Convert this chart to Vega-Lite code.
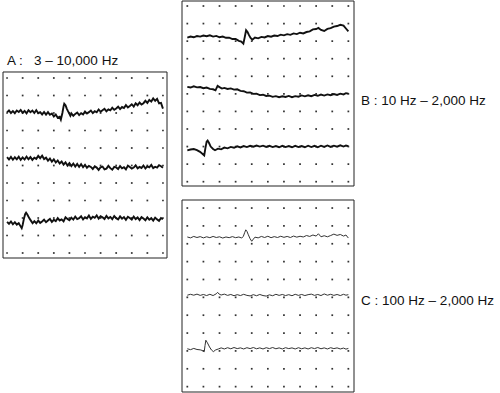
{
"$schema":"https://vega.github.io/schema/vega-lite/v6.json",
"background":"white",
"padding":{"left":2,"top":0,"right":0,"bottom":0},
"config":{"view":{"stroke":null},"font":"Liberation Sans"},
"datasets":{
"grid":[{"x":0,"y":[0,1,2,3,4,5,6,7,8,9,10]},{"x":1,"y":[0,1,2,3,4,5,6,7,8,9,10]},{"x":2,"y":[0,1,2,3,4,5,6,7,8,9,10]},{"x":3,"y":[0,1,2,3,4,5,6,7,8,9,10]},{"x":4,"y":[0,1,2,3,4,5,6,7,8,9,10]},{"x":5,"y":[0,1,2,3,4,5,6,7,8,9,10]},{"x":6,"y":[0,1,2,3,4,5,6,7,8,9,10]},{"x":7,"y":[0,1,2,3,4,5,6,7,8,9,10]},{"x":8,"y":[0,1,2,3,4,5,6,7,8,9,10]},{"x":9,"y":[0,1,2,3,4,5,6,7,8,9,10]},{"x":10,"y":[0,1,2,3,4,5,6,7,8,9,10]}],
"A":[
{"s":1,"x":0,"y":1.97},{"s":1,"x":0.125,"y":1.85},{"s":1,"x":0.25,"y":2.0},{"s":1,"x":0.375,"y":1.89},{"s":1,"x":0.5,"y":2.01},{"s":1,"x":0.625,"y":1.86},{"s":1,"x":0.75,"y":1.94},{"s":1,"x":0.875,"y":1.83},{"s":1,"x":1.0,"y":1.99},{"s":1,"x":1.125,"y":1.88},{"s":1,"x":1.25,"y":2.02},{"s":1,"x":1.375,"y":1.84},{"s":1,"x":1.5,"y":1.95},{"s":1,"x":1.625,"y":1.86},{"s":1,"x":1.75,"y":2.0},{"s":1,"x":1.875,"y":1.84},{"s":1,"x":2.0,"y":2.01},{"s":1,"x":2.125,"y":1.95},{"s":1,"x":2.25,"y":2.08},{"s":1,"x":2.375,"y":1.94},{"s":1,"x":2.5,"y":2.09},{"s":1,"x":2.625,"y":1.95},{"s":1,"x":2.75,"y":2.1},{"s":1,"x":2.875,"y":2.03},{"s":1,"x":3.0,"y":2.2},{"s":1,"x":3.125,"y":2.09},{"s":1,"x":3.25,"y":2.27},{"s":1,"x":3.375,"y":2.22},{"s":1,"x":3.45,"y":2.38},{"s":1,"x":3.55,"y":2.0},{"s":1,"x":3.625,"y":1.62},{"s":1,"x":3.67,"y":1.47},{"s":1,"x":3.75,"y":1.55},{"s":1,"x":3.83,"y":1.75},{"s":1,"x":3.9,"y":1.88},{"s":1,"x":4.0,"y":2.05},{"s":1,"x":4.06,"y":2.16},{"s":1,"x":4.125,"y":2.02},{"s":1,"x":4.25,"y":2.16},{"s":1,"x":4.375,"y":2.05},{"s":1,"x":4.5,"y":1.97},{"s":1,"x":4.625,"y":2.12},{"s":1,"x":4.75,"y":2.01},{"s":1,"x":4.875,"y":2.08},{"s":1,"x":5.0,"y":1.91},{"s":1,"x":5.125,"y":2.03},{"s":1,"x":5.25,"y":1.95},{"s":1,"x":5.375,"y":1.86},{"s":1,"x":5.5,"y":2.01},{"s":1,"x":5.625,"y":1.9},{"s":1,"x":5.75,"y":1.96},{"s":1,"x":5.875,"y":1.8},{"s":1,"x":6.0,"y":1.93},{"s":1,"x":6.125,"y":1.84},{"s":1,"x":6.25,"y":1.76},{"s":1,"x":6.375,"y":1.9},{"s":1,"x":6.5,"y":1.79},{"s":1,"x":6.625,"y":1.85},{"s":1,"x":6.75,"y":1.7},{"s":1,"x":6.875,"y":1.82},{"s":1,"x":7.0,"y":1.74},{"s":1,"x":7.125,"y":1.64},{"s":1,"x":7.25,"y":1.78},{"s":1,"x":7.375,"y":1.66},{"s":1,"x":7.5,"y":1.72},{"s":1,"x":7.625,"y":1.55},{"s":1,"x":7.75,"y":1.68},{"s":1,"x":7.875,"y":1.6},{"s":1,"x":8.0,"y":1.5},{"s":1,"x":8.125,"y":1.63},{"s":1,"x":8.25,"y":1.45},{"s":1,"x":8.375,"y":1.56},{"s":1,"x":8.5,"y":1.4},{"s":1,"x":8.625,"y":1.52},{"s":1,"x":8.75,"y":1.44},{"s":1,"x":8.875,"y":1.3},{"s":1,"x":9.0,"y":1.42},{"s":1,"x":9.125,"y":1.25},{"s":1,"x":9.25,"y":1.35},{"s":1,"x":9.375,"y":1.17},{"s":1,"x":9.5,"y":1.3},{"s":1,"x":9.625,"y":1.19},{"s":1,"x":9.75,"y":1.45},{"s":1,"x":9.875,"y":1.42},{"s":1,"x":10.0,"y":1.75},
{"s":2,"x":0,"y":4.52},{"s":2,"x":0.125,"y":4.66},{"s":2,"x":0.25,"y":4.51},{"s":2,"x":0.375,"y":4.67},{"s":2,"x":0.5,"y":4.53},{"s":2,"x":0.625,"y":4.65},{"s":2,"x":0.75,"y":4.5},{"s":2,"x":0.875,"y":4.68},{"s":2,"x":1.0,"y":4.54},{"s":2,"x":1.125,"y":4.66},{"s":2,"x":1.25,"y":4.49},{"s":2,"x":1.375,"y":4.64},{"s":2,"x":1.5,"y":4.52},{"s":2,"x":1.625,"y":4.68},{"s":2,"x":1.75,"y":4.55},{"s":2,"x":1.875,"y":4.62},{"s":2,"x":2.0,"y":4.45},{"s":2,"x":2.125,"y":4.58},{"s":2,"x":2.25,"y":4.44},{"s":2,"x":2.375,"y":4.63},{"s":2,"x":2.5,"y":4.55},{"s":2,"x":2.625,"y":4.72},{"s":2,"x":2.75,"y":4.6},{"s":2,"x":2.875,"y":4.78},{"s":2,"x":3.0,"y":4.65},{"s":2,"x":3.125,"y":4.83},{"s":2,"x":3.25,"y":4.71},{"s":2,"x":3.375,"y":4.88},{"s":2,"x":3.5,"y":4.77},{"s":2,"x":3.625,"y":4.95},{"s":2,"x":3.75,"y":4.82},{"s":2,"x":3.875,"y":5.0},{"s":2,"x":4.0,"y":4.86},{"s":2,"x":4.125,"y":5.03},{"s":2,"x":4.25,"y":4.89},{"s":2,"x":4.375,"y":5.06},{"s":2,"x":4.5,"y":4.91},{"s":2,"x":4.625,"y":5.08},{"s":2,"x":4.75,"y":4.93},{"s":2,"x":4.875,"y":5.1},{"s":2,"x":5.0,"y":4.96},{"s":2,"x":5.125,"y":5.13},{"s":2,"x":5.25,"y":5.02},{"s":2,"x":5.375,"y":5.08},{"s":2,"x":5.5,"y":5.2},{"s":2,"x":5.625,"y":5.05},{"s":2,"x":5.75,"y":5.12},{"s":2,"x":5.875,"y":5.25},{"s":2,"x":6.0,"y":5.1},{"s":2,"x":6.125,"y":5.06},{"s":2,"x":6.25,"y":5.22},{"s":2,"x":6.375,"y":5.18},{"s":2,"x":6.5,"y":5.02},{"s":2,"x":6.625,"y":5.15},{"s":2,"x":6.75,"y":5.24},{"s":2,"x":6.875,"y":5.08},{"s":2,"x":7.0,"y":5.11},{"s":2,"x":7.125,"y":5.2},{"s":2,"x":7.25,"y":5.03},{"s":2,"x":7.375,"y":5.16},{"s":2,"x":7.5,"y":5.1},{"s":2,"x":7.625,"y":5.22},{"s":2,"x":7.75,"y":5.01},{"s":2,"x":7.875,"y":5.09},{"s":2,"x":8.0,"y":5.18},{"s":2,"x":8.125,"y":5.12},{"s":2,"x":8.25,"y":4.99},{"s":2,"x":8.375,"y":5.16},{"s":2,"x":8.5,"y":5.08},{"s":2,"x":8.625,"y":5.14},{"s":2,"x":8.75,"y":5.0},{"s":2,"x":8.875,"y":5.17},{"s":2,"x":9.0,"y":5.05},{"s":2,"x":9.125,"y":5.1},{"s":2,"x":9.25,"y":4.97},{"s":2,"x":9.375,"y":5.15},{"s":2,"x":9.5,"y":5.07},{"s":2,"x":9.625,"y":5.12},{"s":2,"x":9.75,"y":4.98},{"s":2,"x":9.875,"y":5.04},{"s":2,"x":10.0,"y":5.13},
{"s":3,"x":0,"y":8.22},{"s":3,"x":0.125,"y":8.33},{"s":3,"x":0.25,"y":8.2},{"s":3,"x":0.375,"y":8.36},{"s":3,"x":0.5,"y":8.24},{"s":3,"x":0.625,"y":8.38},{"s":3,"x":0.75,"y":8.3},{"s":3,"x":0.85,"y":8.45},{"s":3,"x":0.94,"y":8.58},{"s":3,"x":1.0,"y":8.4},{"s":3,"x":1.08,"y":8.05},{"s":3,"x":1.16,"y":7.78},{"s":3,"x":1.22,"y":7.7},{"s":3,"x":1.3,"y":7.8},{"s":3,"x":1.43,"y":8.02},{"s":3,"x":1.55,"y":8.18},{"s":3,"x":1.64,"y":8.3},{"s":3,"x":1.75,"y":8.18},{"s":3,"x":1.875,"y":8.3},{"s":3,"x":2.0,"y":8.15},{"s":3,"x":2.125,"y":8.28},{"s":3,"x":2.25,"y":8.2},{"s":3,"x":2.375,"y":8.09},{"s":3,"x":2.5,"y":8.24},{"s":3,"x":2.625,"y":8.14},{"s":3,"x":2.75,"y":8.05},{"s":3,"x":2.875,"y":8.22},{"s":3,"x":3.0,"y":8.1},{"s":3,"x":3.125,"y":8.18},{"s":3,"x":3.25,"y":8.01},{"s":3,"x":3.375,"y":8.14},{"s":3,"x":3.5,"y":8.08},{"s":3,"x":3.625,"y":8.19},{"s":3,"x":3.75,"y":7.96},{"s":3,"x":3.875,"y":8.05},{"s":3,"x":4.0,"y":8.13},{"s":3,"x":4.125,"y":7.98},{"s":3,"x":4.25,"y":8.09},{"s":3,"x":4.375,"y":7.92},{"s":3,"x":4.5,"y":8.06},{"s":3,"x":4.625,"y":8.01},{"s":3,"x":4.75,"y":7.9},{"s":3,"x":4.875,"y":8.08},{"s":3,"x":5.0,"y":7.95},{"s":3,"x":5.125,"y":8.02},{"s":3,"x":5.25,"y":7.86},{"s":3,"x":5.375,"y":8.05},{"s":3,"x":5.5,"y":7.93},{"s":3,"x":5.625,"y":7.99},{"s":3,"x":5.75,"y":7.85},{"s":3,"x":5.875,"y":8.04},{"s":3,"x":6.0,"y":7.9},{"s":3,"x":6.125,"y":7.96},{"s":3,"x":6.25,"y":8.06},{"s":3,"x":6.375,"y":7.88},{"s":3,"x":6.5,"y":8.02},{"s":3,"x":6.625,"y":7.94},{"s":3,"x":6.75,"y":8.07},{"s":3,"x":6.875,"y":7.89},{"s":3,"x":7.0,"y":8.01},{"s":3,"x":7.125,"y":8.08},{"s":3,"x":7.25,"y":7.91},{"s":3,"x":7.375,"y":8.04},{"s":3,"x":7.5,"y":7.95},{"s":3,"x":7.625,"y":8.1},{"s":3,"x":7.75,"y":7.93},{"s":3,"x":7.875,"y":8.0},{"s":3,"x":8.0,"y":8.09},{"s":3,"x":8.125,"y":7.92},{"s":3,"x":8.25,"y":8.06},{"s":3,"x":8.375,"y":7.97},{"s":3,"x":8.5,"y":8.12},{"s":3,"x":8.625,"y":7.95},{"s":3,"x":8.75,"y":8.03},{"s":3,"x":8.875,"y":8.13},{"s":3,"x":9.0,"y":7.96},{"s":3,"x":9.125,"y":8.1},{"s":3,"x":9.25,"y":8.01},{"s":3,"x":9.375,"y":8.15},{"s":3,"x":9.5,"y":7.98},{"s":3,"x":9.625,"y":8.08},{"s":3,"x":9.75,"y":8.16},{"s":3,"x":9.875,"y":8.0},{"s":3,"x":10.0,"y":8.07}
],
"B":[
{"s":1,"x":0,"y":1.8},{"s":1,"x":0.2,"y":1.74},{"s":1,"x":0.4,"y":1.78},{"s":1,"x":0.6,"y":1.71},{"s":1,"x":0.8,"y":1.74},{"s":1,"x":1.0,"y":1.68},{"s":1,"x":1.2,"y":1.72},{"s":1,"x":1.4,"y":1.67},{"s":1,"x":1.6,"y":1.74},{"s":1,"x":1.8,"y":1.7},{"s":1,"x":2.0,"y":1.78},{"s":1,"x":2.2,"y":1.74},{"s":1,"x":2.4,"y":1.81},{"s":1,"x":2.6,"y":1.8},{"s":1,"x":2.8,"y":1.88},{"s":1,"x":3.0,"y":1.87},{"s":1,"x":3.2,"y":1.98},{"s":1,"x":3.35,"y":2.02},{"s":1,"x":3.48,"y":2.14},{"s":1,"x":3.56,"y":1.8},{"s":1,"x":3.65,"y":1.38},{"s":1,"x":3.74,"y":1.48},{"s":1,"x":3.83,"y":1.66},{"s":1,"x":3.93,"y":1.82},{"s":1,"x":4.04,"y":1.92},{"s":1,"x":4.2,"y":1.8},{"s":1,"x":4.4,"y":1.84},{"s":1,"x":4.6,"y":1.76},{"s":1,"x":4.8,"y":1.79},{"s":1,"x":5.0,"y":1.71},{"s":1,"x":5.2,"y":1.75},{"s":1,"x":5.4,"y":1.68},{"s":1,"x":5.6,"y":1.71},{"s":1,"x":5.8,"y":1.63},{"s":1,"x":6.0,"y":1.67},{"s":1,"x":6.2,"y":1.6},{"s":1,"x":6.4,"y":1.64},{"s":1,"x":6.6,"y":1.56},{"s":1,"x":6.8,"y":1.6},{"s":1,"x":7.0,"y":1.52},{"s":1,"x":7.2,"y":1.56},{"s":1,"x":7.4,"y":1.48},{"s":1,"x":7.6,"y":1.44},{"s":1,"x":7.8,"y":1.33},{"s":1,"x":8.0,"y":1.31},{"s":1,"x":8.14,"y":1.25},{"s":1,"x":8.3,"y":1.36},{"s":1,"x":8.5,"y":1.42},{"s":1,"x":8.7,"y":1.3},{"s":1,"x":8.9,"y":1.26},{"s":1,"x":9.1,"y":1.17},{"s":1,"x":9.3,"y":1.14},{"s":1,"x":9.5,"y":1.07},{"s":1,"x":9.7,"y":1.12},{"s":1,"x":9.85,"y":1.28},{"s":1,"x":10.0,"y":1.44},
{"s":2,"x":0,"y":4.6},{"s":2,"x":0.2,"y":4.64},{"s":2,"x":0.4,"y":4.57},{"s":2,"x":0.6,"y":4.63},{"s":2,"x":0.8,"y":4.61},{"s":2,"x":1.0,"y":4.68},{"s":2,"x":1.2,"y":4.64},{"s":2,"x":1.4,"y":4.72},{"s":2,"x":1.6,"y":4.74},{"s":2,"x":1.75,"y":4.8},{"s":2,"x":1.88,"y":4.55},{"s":2,"x":2.0,"y":4.62},{"s":2,"x":2.15,"y":4.7},{"s":2,"x":2.3,"y":4.66},{"s":2,"x":2.5,"y":4.72},{"s":2,"x":2.7,"y":4.69},{"s":2,"x":2.9,"y":4.76},{"s":2,"x":3.1,"y":4.74},{"s":2,"x":3.3,"y":4.83},{"s":2,"x":3.5,"y":4.85},{"s":2,"x":3.7,"y":4.93},{"s":2,"x":3.9,"y":4.92},{"s":2,"x":4.1,"y":5.0},{"s":2,"x":4.3,"y":4.99},{"s":2,"x":4.5,"y":5.07},{"s":2,"x":4.7,"y":5.05},{"s":2,"x":4.9,"y":5.12},{"s":2,"x":5.1,"y":5.1},{"s":2,"x":5.3,"y":5.17},{"s":2,"x":5.5,"y":5.13},{"s":2,"x":5.7,"y":5.19},{"s":2,"x":5.9,"y":5.14},{"s":2,"x":6.1,"y":5.18},{"s":2,"x":6.3,"y":5.12},{"s":2,"x":6.5,"y":5.19},{"s":2,"x":6.7,"y":5.13},{"s":2,"x":6.9,"y":5.16},{"s":2,"x":7.1,"y":5.09},{"s":2,"x":7.3,"y":5.14},{"s":2,"x":7.5,"y":5.08},{"s":2,"x":7.7,"y":5.13},{"s":2,"x":7.9,"y":5.06},{"s":2,"x":8.1,"y":5.11},{"s":2,"x":8.3,"y":5.04},{"s":2,"x":8.5,"y":5.1},{"s":2,"x":8.7,"y":5.03},{"s":2,"x":8.9,"y":5.08},{"s":2,"x":9.1,"y":5.01},{"s":2,"x":9.3,"y":5.06},{"s":2,"x":9.5,"y":4.99},{"s":2,"x":9.7,"y":5.03},{"s":2,"x":9.85,"y":4.96},{"s":2,"x":10.0,"y":4.99},
{"s":3,"x":0,"y":8.22},{"s":3,"x":0.2,"y":8.17},{"s":3,"x":0.4,"y":8.14},{"s":3,"x":0.6,"y":8.2},{"s":3,"x":0.79,"y":8.3},{"s":3,"x":0.95,"y":8.42},{"s":3,"x":1.05,"y":8.5},{"s":3,"x":1.12,"y":8.1},{"s":3,"x":1.2,"y":7.72},{"s":3,"x":1.26,"y":7.66},{"s":3,"x":1.35,"y":7.8},{"s":3,"x":1.45,"y":8.0},{"s":3,"x":1.6,"y":8.14},{"s":3,"x":1.72,"y":8.21},{"s":3,"x":1.9,"y":8.12},{"s":3,"x":2.1,"y":8.16},{"s":3,"x":2.3,"y":8.06},{"s":3,"x":2.5,"y":8.1},{"s":3,"x":2.7,"y":8.02},{"s":3,"x":2.9,"y":8.07},{"s":3,"x":3.1,"y":7.99},{"s":3,"x":3.3,"y":8.05},{"s":3,"x":3.5,"y":7.97},{"s":3,"x":3.7,"y":8.03},{"s":3,"x":3.9,"y":7.96},{"s":3,"x":4.1,"y":8.01},{"s":3,"x":4.3,"y":7.94},{"s":3,"x":4.5,"y":8.0},{"s":3,"x":4.7,"y":7.95},{"s":3,"x":4.9,"y":8.02},{"s":3,"x":5.1,"y":7.96},{"s":3,"x":5.3,"y":8.03},{"s":3,"x":5.5,"y":7.97},{"s":3,"x":5.7,"y":8.04},{"s":3,"x":5.9,"y":7.96},{"s":3,"x":6.1,"y":8.03},{"s":3,"x":6.3,"y":7.97},{"s":3,"x":6.5,"y":8.04},{"s":3,"x":6.7,"y":7.96},{"s":3,"x":6.9,"y":8.03},{"s":3,"x":7.1,"y":7.97},{"s":3,"x":7.3,"y":8.04},{"s":3,"x":7.5,"y":7.95},{"s":3,"x":7.7,"y":8.03},{"s":3,"x":7.9,"y":7.96},{"s":3,"x":8.1,"y":8.04},{"s":3,"x":8.3,"y":7.95},{"s":3,"x":8.5,"y":8.02},{"s":3,"x":8.7,"y":7.94},{"s":3,"x":8.9,"y":8.02},{"s":3,"x":9.1,"y":7.95},{"s":3,"x":9.3,"y":8.01},{"s":3,"x":9.5,"y":7.93},{"s":3,"x":9.7,"y":8.0},{"s":3,"x":9.85,"y":7.94},{"s":3,"x":10.0,"y":7.98}
],
"C":[
{"s":1,"x":0,"y":1.62},{"s":1,"x":0.2,"y":1.67},{"s":1,"x":0.4,"y":1.59},{"s":1,"x":0.6,"y":1.65},{"s":1,"x":0.8,"y":1.6},{"s":1,"x":1.0,"y":1.67},{"s":1,"x":1.2,"y":1.61},{"s":1,"x":1.4,"y":1.66},{"s":1,"x":1.6,"y":1.59},{"s":1,"x":1.8,"y":1.65},{"s":1,"x":2.0,"y":1.61},{"s":1,"x":2.2,"y":1.68},{"s":1,"x":2.4,"y":1.62},{"s":1,"x":2.6,"y":1.66},{"s":1,"x":2.8,"y":1.6},{"s":1,"x":3.0,"y":1.66},{"s":1,"x":3.2,"y":1.62},{"s":1,"x":3.38,"y":1.68},{"s":1,"x":3.48,"y":1.58},{"s":1,"x":3.56,"y":1.38},{"s":1,"x":3.63,"y":1.22},{"s":1,"x":3.7,"y":1.3},{"s":1,"x":3.79,"y":1.5},{"s":1,"x":3.9,"y":1.72},{"s":1,"x":4.0,"y":1.86},{"s":1,"x":4.1,"y":1.74},{"s":1,"x":4.2,"y":1.63},{"s":1,"x":4.4,"y":1.67},{"s":1,"x":4.6,"y":1.59},{"s":1,"x":4.8,"y":1.65},{"s":1,"x":5.0,"y":1.58},{"s":1,"x":5.2,"y":1.66},{"s":1,"x":5.4,"y":1.6},{"s":1,"x":5.6,"y":1.65},{"s":1,"x":5.8,"y":1.58},{"s":1,"x":6.0,"y":1.64},{"s":1,"x":6.2,"y":1.59},{"s":1,"x":6.4,"y":1.65},{"s":1,"x":6.6,"y":1.57},{"s":1,"x":6.8,"y":1.63},{"s":1,"x":7.0,"y":1.58},{"s":1,"x":7.2,"y":1.62},{"s":1,"x":7.4,"y":1.54},{"s":1,"x":7.6,"y":1.59},{"s":1,"x":7.8,"y":1.51},{"s":1,"x":8.0,"y":1.57},{"s":1,"x":8.14,"y":1.44},{"s":1,"x":8.3,"y":1.61},{"s":1,"x":8.5,"y":1.55},{"s":1,"x":8.7,"y":1.61},{"s":1,"x":8.9,"y":1.54},{"s":1,"x":9.1,"y":1.46},{"s":1,"x":9.3,"y":1.53},{"s":1,"x":9.5,"y":1.48},{"s":1,"x":9.7,"y":1.57},{"s":1,"x":9.85,"y":1.51},{"s":1,"x":10.0,"y":1.68},
{"s":2,"x":0,"y":4.88},{"s":2,"x":0.2,"y":4.83},{"s":2,"x":0.4,"y":4.88},{"s":2,"x":0.6,"y":4.82},{"s":2,"x":0.8,"y":4.89},{"s":2,"x":1.0,"y":4.84},{"s":2,"x":1.2,"y":4.9},{"s":2,"x":1.4,"y":4.83},{"s":2,"x":1.6,"y":4.9},{"s":2,"x":1.8,"y":4.8},{"s":2,"x":1.88,"y":4.72},{"s":2,"x":1.98,"y":4.82},{"s":2,"x":2.1,"y":4.87},{"s":2,"x":2.3,"y":4.82},{"s":2,"x":2.5,"y":4.89},{"s":2,"x":2.7,"y":4.84},{"s":2,"x":2.9,"y":4.91},{"s":2,"x":3.1,"y":4.85},{"s":2,"x":3.3,"y":4.9},{"s":2,"x":3.5,"y":4.83},{"s":2,"x":3.7,"y":4.89},{"s":2,"x":3.9,"y":4.92},{"s":2,"x":4.1,"y":4.85},{"s":2,"x":4.3,"y":4.91},{"s":2,"x":4.5,"y":4.84},{"s":2,"x":4.7,"y":4.9},{"s":2,"x":4.9,"y":4.93},{"s":2,"x":5.1,"y":4.86},{"s":2,"x":5.3,"y":4.91},{"s":2,"x":5.5,"y":4.83},{"s":2,"x":5.7,"y":4.89},{"s":2,"x":5.9,"y":4.84},{"s":2,"x":6.1,"y":4.9},{"s":2,"x":6.3,"y":4.85},{"s":2,"x":6.5,"y":4.91},{"s":2,"x":6.7,"y":4.83},{"s":2,"x":6.9,"y":4.89},{"s":2,"x":7.1,"y":4.84},{"s":2,"x":7.3,"y":4.9},{"s":2,"x":7.5,"y":4.85},{"s":2,"x":7.7,"y":4.82},{"s":2,"x":7.9,"y":4.89},{"s":2,"x":8.1,"y":4.84},{"s":2,"x":8.3,"y":4.9},{"s":2,"x":8.5,"y":4.81},{"s":2,"x":8.7,"y":4.88},{"s":2,"x":8.9,"y":4.83},{"s":2,"x":9.1,"y":4.89},{"s":2,"x":9.3,"y":4.84},{"s":2,"x":9.5,"y":4.9},{"s":2,"x":9.7,"y":4.83},{"s":2,"x":9.85,"y":4.88},{"s":2,"x":10.0,"y":4.85},
{"s":3,"x":0,"y":7.88},{"s":3,"x":0.2,"y":7.93},{"s":3,"x":0.4,"y":7.86},{"s":3,"x":0.6,"y":7.92},{"s":3,"x":0.8,"y":7.94},{"s":3,"x":0.95,"y":7.98},{"s":3,"x":1.05,"y":8.04},{"s":3,"x":1.1,"y":7.7},{"s":3,"x":1.15,"y":7.4},{"s":3,"x":1.25,"y":7.55},{"s":3,"x":1.38,"y":7.78},{"s":3,"x":1.5,"y":7.95},{"s":3,"x":1.62,"y":8.04},{"s":3,"x":1.75,"y":7.95},{"s":3,"x":1.93,"y":7.89},{"s":3,"x":2.1,"y":7.83},{"s":3,"x":2.3,"y":7.89},{"s":3,"x":2.5,"y":7.82},{"s":3,"x":2.7,"y":7.88},{"s":3,"x":2.9,"y":7.81},{"s":3,"x":3.1,"y":7.87},{"s":3,"x":3.3,"y":7.83},{"s":3,"x":3.5,"y":7.89},{"s":3,"x":3.7,"y":7.82},{"s":3,"x":3.9,"y":7.87},{"s":3,"x":4.1,"y":7.81},{"s":3,"x":4.3,"y":7.88},{"s":3,"x":4.5,"y":7.83},{"s":3,"x":4.7,"y":7.89},{"s":3,"x":4.9,"y":7.82},{"s":3,"x":5.1,"y":7.87},{"s":3,"x":5.3,"y":7.81},{"s":3,"x":5.5,"y":7.88},{"s":3,"x":5.7,"y":7.83},{"s":3,"x":5.9,"y":7.89},{"s":3,"x":6.1,"y":7.82},{"s":3,"x":6.3,"y":7.87},{"s":3,"x":6.5,"y":7.83},{"s":3,"x":6.7,"y":7.89},{"s":3,"x":6.9,"y":7.82},{"s":3,"x":7.1,"y":7.88},{"s":3,"x":7.3,"y":7.83},{"s":3,"x":7.5,"y":7.89},{"s":3,"x":7.7,"y":7.82},{"s":3,"x":7.9,"y":7.87},{"s":3,"x":8.1,"y":7.81},{"s":3,"x":8.3,"y":7.88},{"s":3,"x":8.5,"y":7.83},{"s":3,"x":8.7,"y":7.89},{"s":3,"x":8.9,"y":7.82},{"s":3,"x":9.1,"y":7.87},{"s":3,"x":9.3,"y":7.83},{"s":3,"x":9.5,"y":7.89},{"s":3,"x":9.7,"y":7.84},{"s":3,"x":9.85,"y":7.9},{"s":3,"x":10.0,"y":7.86}
]
},
"spacing":13,
"hconcat":[
{
"width":164,"height":257,
"encoding":{
"x":{"field":"x","type":"quantitative","scale":{"domain":[-0.26,10.26],"nice":false,"zero":false},"axis":null},
"y":{"field":"y","type":"quantitative","scale":{"domain":[-4.4,10.286],"reverse":true,"nice":false,"zero":false},"axis":null}
},
"layer":[
{"data":{"name":"grid"},"transform":[{"flatten":["y"]}],"mark":{"type":"square","size":3,"color":"#333","opacity":1}},
{"data":{"values":[{"x":-0.26,"x2":10.26,"y":-0.343,"y2":10.286}]},"mark":{"type":"rect","filled":false,"color":"#222","strokeWidth":1},"encoding":{"x2":{"field":"x2"},"y2":{"field":"y2"}}},
{"data":{"name":"A"},"mark":{"type":"line","color":"#111","strokeWidth":1.9},"encoding":{"detail":{"field":"s"}}},
{"data":{"values":[{"x":0,"y":-0.75,"t":"A :\u00a0\u00a0\u00a03 – 10,000 Hz"}]},"mark":{"type":"text","align":"left","baseline":"alphabetic","font":"Liberation Sans","fontSize":13.5,"color":"#111"},"encoding":{"text":{"field":"t"}}}
]
},
{
"spacing":12,
"vconcat":[
{
"width":172,"height":185,
"encoding":{
"x":{"field":"x","type":"quantitative","scale":{"domain":[-0.33,10.35],"nice":false,"zero":false},"axis":null},
"y":{"field":"y","type":"quantitative","scale":{"domain":[-0.285,10.245],"reverse":true,"nice":false,"zero":false},"axis":null}
},
"layer":[
{"data":{"name":"grid"},"transform":[{"flatten":["y"]}],"mark":{"type":"square","size":3,"color":"#333","opacity":1}},
{"data":{"values":[{"x":-0.33,"x2":10.35,"y":-0.285,"y2":10.245}]},"mark":{"type":"rect","filled":false,"color":"#222","strokeWidth":1},"encoding":{"x2":{"field":"x2"},"y2":{"field":"y2"}}},
{"data":{"name":"B"},"mark":{"type":"line","color":"#111","strokeWidth":1.9},"encoding":{"detail":{"field":"s"}}},
{"data":{"values":[{"x":10.79,"y":5.63,"t":"B : 10 Hz – 2,000 Hz"}]},"mark":{"type":"text","align":"left","baseline":"alphabetic","font":"Liberation Sans","fontSize":13.5,"color":"#111"},"encoding":{"text":{"field":"t"}}}
]
},
{
"width":172,"height":192,
"encoding":{
"x":{"field":"x","type":"quantitative","scale":{"domain":[-0.33,10.35],"nice":false,"zero":false},"axis":null},
"y":{"field":"y","type":"quantitative","scale":{"domain":[-0.45,10.3],"reverse":true,"nice":false,"zero":false},"axis":null}
},
"layer":[
{"data":{"name":"grid"},"transform":[{"flatten":["y"]}],"mark":{"type":"square","size":3,"color":"#333","opacity":1}},
{"data":{"values":[{"x":-0.33,"x2":10.35,"y":-0.45,"y2":10.3}]},"mark":{"type":"rect","filled":false,"color":"#222","strokeWidth":1},"encoding":{"x2":{"field":"x2"},"y2":{"field":"y2"}}},
{"data":{"name":"C"},"mark":{"type":"line","color":"#333","strokeWidth":1},"encoding":{"detail":{"field":"s"}}},
{"data":{"values":[{"x":10.79,"y":5.43,"t":"C : 100 Hz – 2,000 Hz"}]},"mark":{"type":"text","align":"left","baseline":"alphabetic","font":"Liberation Sans","fontSize":13.5,"color":"#111"},"encoding":{"text":{"field":"t"}}}
]
}
]
}
]
}
